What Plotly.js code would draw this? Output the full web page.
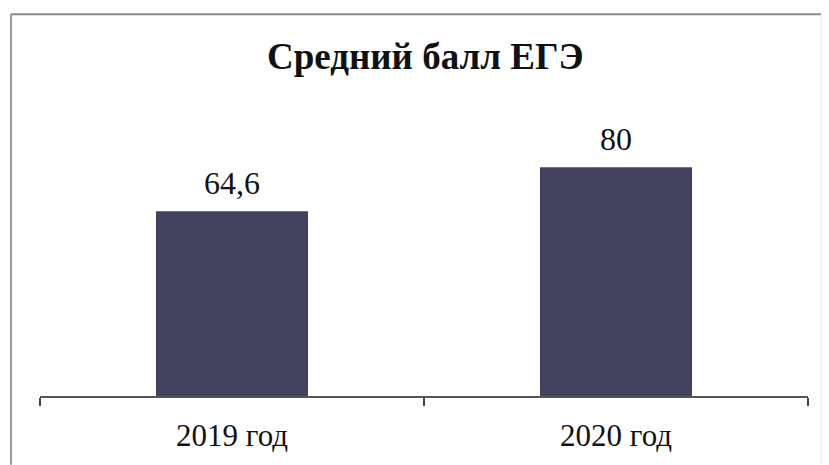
<!DOCTYPE html>
<html>
<head>
<meta charset="utf-8">
<script src="https://cdn.plot.ly/plotly-3.0.1.min.js"></script>
<style>html,body{margin:0;padding:0;background:#fff;}#chart{width:829px;height:465px;}</style>
</head>
<body>
<div id="chart"></div>
<script>
const categories = ["2019 год", "2020 год"];
const values = [64.6, 80];
const chartTitle = "Средний балл ЕГЭ";

const serif = "Liberation Serif, Times New Roman, serif";
const trace = {
  type: "bar",
  x: categories,
  y: values,
  marker: {color: "#43425e", line: {width: 0}},
  hoverinfo: "none"
};
const labels = categories.map((c, i) => ({
  x: c, y: values[i], xref: "x", yref: "y",
  text: String(values[i]).replace(".", ","),
  showarrow: false, yanchor: "bottom", yshift: 8,
  font: {family: serif, size: 32, color: "#111"}
}));
const layout = {
  width: 829, height: 465,
  margin: {l: 40, r: 21, t: 110, b: 69},
  paper_bgcolor: "#fff", plot_bgcolor: "#fff",
  showlegend: false,
  bargap: 0.604,
  title: {text: "<b>" + chartTitle + "</b>", font: {family: serif, size: 37, color: "#111"},
          x: 0.513, xanchor: "center", y: 0.88, yanchor: "middle"},
  xaxis: {
    type: "category",
    showline: true, linecolor: "#555", linewidth: 2,
    ticks: "outside", ticklen: 8, tickwidth: 2, tickcolor: "#444",
    tickson: "boundaries",
    ticklabelstandoff: 11,
    tickfont: {family: serif, size: 31, color: "#111"},
    showgrid: false, zeroline: false
  },
  yaxis: {range: [0, 100], visible: false, showgrid: false, zeroline: false},
  annotations: labels,
  shapes: [
    {type: "line", xref: "paper", yref: "paper", x0: -0.0378, x1: 1.017, y0: 1.335, y1: 1.335, line: {color: "#888", width: 2}},
    {type: "line", xref: "paper", yref: "paper", x0: -0.0378, x1: -0.0378, y0: 1.335, y1: -0.24, line: {color: "#999", width: 2}},
    {type: "line", xref: "paper", yref: "paper", x0: 1.017, x1: 1.017, y0: 1.335, y1: -0.24, line: {color: "#e4e4e4", width: 1}}
  ]
};
Plotly.newPlot("chart", [trace], layout, {staticPlot: true, displayModeBar: false});
</script>
</body>
</html>
